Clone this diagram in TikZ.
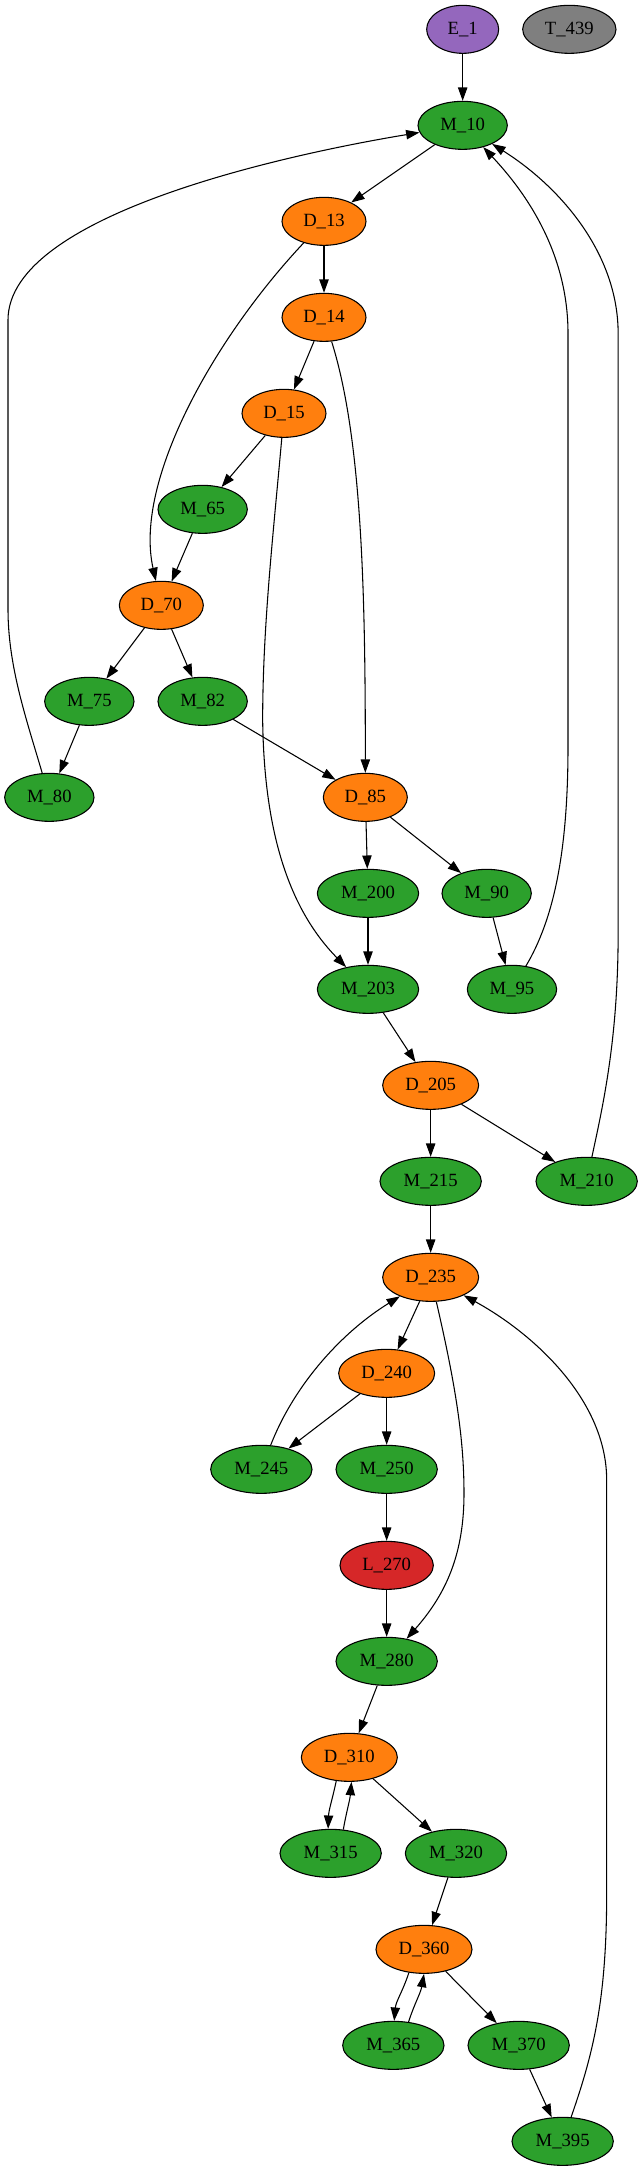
\documentclass[tikz,border=0pt]{standalone}
\usepackage{fontspec}
\setmainfont{Liberation Serif}
\usetikzlibrary{arrows.meta,shapes.geometric}
\definecolor{cgreen}{HTML}{2CA02C}
\definecolor{corange}{HTML}{FF7F0E}
\definecolor{cpurple}{HTML}{9467BD}
\definecolor{cred}{HTML}{D62728}
\definecolor{cgray}{HTML}{7F7F7F}
\begin{document}
\begin{tikzpicture}[x=1pt,y=-1pt,
  nd/.style={ellipse, draw=black, line width=0.8pt, minimum height=36pt, inner sep=0pt,
    font=\fontsize{14}{16}\selectfont},
  mtwo/.style={nd, fill=cgreen, minimum width=67pt},
  mthree/.style={nd, fill=cgreen, minimum width=76pt},
  dtwo/.style={nd, fill=corange, minimum width=63pt},
  dthree/.style={nd, fill=corange, minimum width=72pt},
  enode/.style={nd, fill=cpurple, minimum width=54pt},
  tnode/.style={nd, fill=cgray, minimum width=70pt},
  lnode/.style={nd, fill=cred, minimum width=70pt},
  edge/.style={draw=black, line width=0.8pt, -{Triangle[length=10pt,width=7pt]}}]
\useasboundingbox (0,0) rectangle (482.25,1628.25);
\node[enode] (E1) at (347,22) {E\_1};
\node[tnode] (T439) at (427,22) {T\_439};
\node[mtwo] (M10) at (347,94) {M\_10};
\node[dtwo] (D13) at (243,166) {D\_13};
\node[dtwo] (D14) at (243,238) {D\_14};
\node[dtwo] (D15) at (213,310) {D\_15};
\node[mtwo] (M65) at (152,382) {M\_65};
\node[dtwo] (D70) at (121,454) {D\_70};
\node[mtwo] (M75) at (67,526) {M\_75};
\node[mtwo] (M82) at (152,526) {M\_82};
\node[mtwo] (M80) at (37,598) {M\_80};
\node[dtwo] (D85) at (274,598) {D\_85};
\node[mthree] (M200) at (276,670) {M\_200};
\node[mtwo] (M90) at (365,670) {M\_90};
\node[mthree] (M203) at (276,742) {M\_203};
\node[mtwo] (M95) at (384,742) {M\_95};
\node[dthree] (D205) at (323,814) {D\_205};
\node[mthree] (M215) at (323,886) {M\_215};
\node[mthree] (M210) at (440,886) {M\_210};
\node[dthree] (D235) at (323,958) {D\_235};
\node[dthree] (D240) at (290,1030) {D\_240};
\node[mthree] (M245) at (196,1102) {M\_245};
\node[mthree] (M250) at (290,1102) {M\_250};
\node[lnode] (L270) at (290,1174) {L\_270};
\node[mthree] (M280) at (290,1246) {M\_280};
\node[dthree] (D310) at (262,1318) {D\_310};
\node[mthree] (M315) at (248,1390) {M\_315};
\node[mthree] (M320) at (342,1390) {M\_320};
\node[dthree] (D360) at (318,1462) {D\_360};
\node[mthree] (M365) at (295,1534) {M\_365};
\node[mthree] (M370) at (389,1534) {M\_370};
\node[mthree] (M395) at (422,1606) {M\_395};
% straight edges
\draw[edge] (E1) -- (M10);
\draw[edge] (M10) -- (D13);
\draw[edge] (D13) -- (D14);
\draw[edge] (D14) -- (D15);
\draw[edge] (D15) -- (M65);
\draw[edge] (M65) -- (D70);
\draw[edge] (D70) -- (M75);
\draw[edge] (D70) -- (M82);
\draw[edge] (M75) -- (M80);
\draw[edge] (M82) -- (D85);
\draw[edge] (D85) -- (M200);
\draw[edge] (D85) -- (M90);
\draw[edge] (M200) -- (M203);
\draw[edge] (M90) -- (M95);
\draw[edge] (M203) -- (D205);
\draw[edge] (D205) -- (M215);
\draw[edge] (D205) -- (M210);
\draw[edge] (M215) -- (D235);
\draw[edge] (D235) -- (D240);
\draw[edge] (D240) -- (M245);
\draw[edge] (D240) -- (M250);
\draw[edge] (M250) -- (L270);
\draw[edge] (L270) -- (M280);
\draw[edge] (M280) -- (D310);
\draw[edge] (D310) -- (M320);
\draw[edge] (M320) -- (D360);
\draw[edge] (D360) -- (M370);
\draw[edge] (M370) -- (M395);
% curved edges
\draw[edge] (D13) .. controls (162,252) and (100,360) .. (D70);
\draw[edge] (D14) .. controls (272,330) and (274,450) .. (D85);
\draw[edge] (D15) .. controls (205,400) and (197,470) .. (197,540)
  .. controls (198,620) and (215,680) .. (M203);
\draw[edge] (M80) .. controls (20,540) and (6,500) .. (6,457) -- (6,240)
  .. controls (6,160) and (220,115) .. (M10);
\draw[edge] (M95) .. controls (415,690) and (426,640) .. (426,560) -- (426,250)
  .. controls (426,190) and (395,145) .. (M10);
\draw[edge] (M210) .. controls (452,830) and (463.6,780) .. (463.6,700) -- (463.6,250)
  .. controls (463.6,190) and (420,140) .. (M10);
\draw[edge] (D235) .. controls (342,1040) and (348,1080) .. (348,1120)
  .. controls (348,1165) and (335,1195) .. (M280);
\draw[edge] (M245) .. controls (220,1040) and (255,1000) .. (D235);
\draw[edge] (M395) .. controls (445,1540) and (455,1500) .. (455,1420) -- (455,1110)
  .. controls (455,1050) and (400,1000) .. (D235);
% paired edges
\draw[edge] (D310.241) to[out=-102,in=88] (M315.96);
\draw[edge] (M315.62) to[out=80,in=-95] (D310.275);
\draw[edge] (D360.237) to[out=-108,in=85] (M365.88);
\draw[edge] (M365.57) to[out=72,in=-100] (D360.270);
\end{tikzpicture}
\end{document}
